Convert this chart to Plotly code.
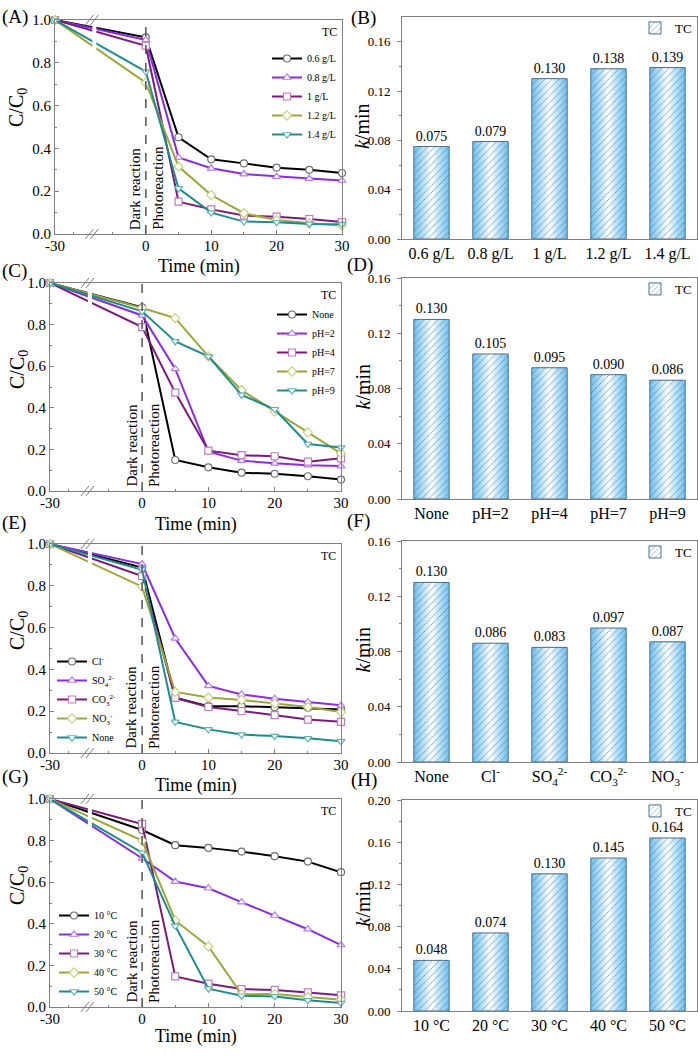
import plotly.graph_objects as go

# ---------------- data ----------------
times = [-30, 0, 5, 10, 15, 20, 25, 30]

# (A) catalyst dosage
dose_names = ["0.6 g/L", "0.8 g/L", "1 g/L", "1.2 g/L", "1.4 g/L"]
dose_vals = [
    [1.0, 0.919, 0.452, 0.349, 0.330, 0.310, 0.300, 0.285],
    [1.0, 0.907, 0.358, 0.307, 0.280, 0.268, 0.259, 0.250],
    [1.0, 0.880, 0.151, 0.115, 0.086, 0.081, 0.070, 0.056],
    [1.0, 0.707, 0.315, 0.182, 0.097, 0.065, 0.050, 0.040],
    [1.0, 0.759, 0.213, 0.100, 0.058, 0.055, 0.047, 0.045],
]
# (C) pH
ph_names = ["None", "pH=2", "pH=4", "pH=7", "pH=9"]
ph_vals = [
    [1.0, 0.883, 0.149, 0.114, 0.088, 0.083, 0.071, 0.055],
    [1.0, 0.844, 0.587, 0.189, 0.146, 0.133, 0.124, 0.120],
    [1.0, 0.788, 0.473, 0.194, 0.172, 0.167, 0.141, 0.157],
    [1.0, 0.880, 0.831, 0.647, 0.485, 0.382, 0.282, 0.181],
    [1.0, 0.864, 0.719, 0.647, 0.462, 0.393, 0.226, 0.209],
]
# (E) anions
ion_names = ["Cl<sup>-</sup>", "SO<sub>4</sub><sup>2-</sup>", "CO<sub>3</sub><sup>2-</sup>",
             "NO<sub>3</sub><sup>-</sup>", "None"]
ion_vals = [
    [1.0, 0.887, 0.264, 0.224, 0.224, 0.219, 0.216, 0.208],
    [1.0, 0.904, 0.548, 0.321, 0.280, 0.260, 0.244, 0.228],
    [1.0, 0.847, 0.264, 0.220, 0.201, 0.181, 0.160, 0.149],
    [1.0, 0.796, 0.292, 0.265, 0.254, 0.236, 0.220, 0.196],
    [1.0, 0.877, 0.149, 0.113, 0.088, 0.081, 0.070, 0.056],
]
# (G) temperature
temp_names = ["10 °C", "20 °C", "30 °C", "40 °C", "50 °C"]
temp_vals = [
    [1.0, 0.851, 0.778, 0.765, 0.747, 0.725, 0.699, 0.648],
    [1.0, 0.715, 0.603, 0.571, 0.504, 0.440, 0.374, 0.298],
    [1.0, 0.880, 0.147, 0.112, 0.086, 0.082, 0.070, 0.056],
    [1.0, 0.800, 0.416, 0.291, 0.061, 0.062, 0.048, 0.035],
    [1.0, 0.742, 0.390, 0.088, 0.054, 0.051, 0.032, 0.019],
]

# bar charts: rate constants k (min^-1)
k_dose_cats = ["0.6 g/L", "0.8 g/L", "1 g/L", "1.2 g/L", "1.4 g/L"]
k_dose = [0.075, 0.079, 0.130, 0.138, 0.139]
k_ph_cats = ["None", "pH=2", "pH=4", "pH=7", "pH=9"]
k_ph = [0.130, 0.105, 0.095, 0.090, 0.086]
k_ion_cats = ["None", "Cl<sup>-</sup>", "SO<sub>4</sub><sup>2-</sup>",
              "CO<sub>3</sub><sup>2-</sup>", "NO<sub>3</sub><sup>-</sup>"]
k_ion = [0.130, 0.086, 0.083, 0.097, 0.087]
k_temp_cats = ["10 °C", "20 °C", "30 °C", "40 °C", "50 °C"]
k_temp = [0.048, 0.074, 0.130, 0.145, 0.164]

x_ticks = [-30, 0, 10, 20, 30]
x_minor = [-24, -11, 5, 15, 25]
BREAK_T = -17

# ---------------- style ----------------
W, H = 698, 1057
FONT = "Liberation Serif"
AX = "#808080"
colors = ["#000000", "#8B2BE2", "#7a1a7a", "#9DA63A", "#1f8c8c"]
mk_line = ["#6e6e6e", "#b27cf0", "#c07cc0", "#c9d17f", "#63b3b3"]
symbols = ["circle", "triangle-up", "square", "diamond", "triangle-down"]
NEG_SCALE = 0.463  # compressed scale of the broken (negative-time) segment


def tmap(t):
    return t * NEG_SCALE if t < 0 else t


def px_x(p):
    return p / W


def px_y(p):
    return 1 - p / H


fig = go.Figure()

# (names, vals, axis idx, frame px (x0,x1,y0,y1), legend, legend pos, ytitle center y, xtitle center y)
line_panels = [
    (dose_names, dose_vals, 1, (55, 342, 20, 234), "legend",
     dict(x=px_x(341), y=px_y(44), xanchor="right", yanchor="top"), 108, 267),
    (ph_names, ph_vals, 3, (50, 341, 283, 491), "legend3",
     dict(x=px_x(340), y=px_y(300), xanchor="right", yanchor="top"), 370, 524),
    (ion_names, ion_vals, 5, (50, 341, 544, 753), "legend5",
     dict(x=px_x(52), y=px_y(752), xanchor="left", yanchor="bottom"), 631, 785),
    (temp_names, temp_vals, 7, (50, 341, 799, 1007), "legend7",
     dict(x=px_x(54), y=px_y(1006), xanchor="left", yanchor="bottom"), 886, 1036),
]

bar_panels = [
    (k_dose_cats, k_dose, 2, (402, 697, 17, 239), [0, 0.18], "legend2"),
    (k_ph_cats, k_ph, 4, (402, 697, 278, 499), [0, 0.16], "legend4"),
    (k_ion_cats, k_ion, 6, (402, 697, 541, 762), [0, 0.16], "legend6"),
    (k_temp_cats, k_temp, 8, (402, 697, 800, 1011), [0, 0.20], "legend8"),
]

layout = dict(
    width=W, height=H,
    margin=dict(l=0, r=0, t=0, b=0, autoexpand=False),
    paper_bgcolor="white", plot_bgcolor="white",
    font=dict(family=FONT, color="black", size=14),
    barmode="overlay",
    showlegend=True,
)
shapes = []
annotations = []


def ax_name(i, kind):
    return kind + ("" if i == 1 else str(i))


def ref_name(i, kind):
    return kind + ("" if i == 1 else str(i))


base_axis = dict(showline=True, linecolor=AX, linewidth=1, mirror=True,
                 ticks="outside", tickcolor=AX, ticklen=4, tickwidth=1,
                 showgrid=False, zeroline=False, automargin=False)

# ---------- line panels ----------
for names, vals, i, (x0, x1, y0, y1), leg, legpos, yt_y, xt_y in line_panels:
    xr, yr = ref_name(i, "x"), ref_name(i, "y")
    xm = [tmap(t) for t in times]
    for j, (nm, v) in enumerate(zip(names, vals)):
        fig.add_trace(go.Scatter(
            x=xm, y=v, name=nm, mode="lines+markers",
            line=dict(color=colors[j], width=2),
            marker=dict(symbol=symbols[j], size=7, color="white",
                        line=dict(color=mk_line[j], width=1.2)),
            xaxis=xr, yaxis=yr, legend=leg, cliponaxis=False,
        ))
    layout[ax_name(i, "xaxis")] = dict(
        base_axis, domain=[px_x(x0), px_x(x1)], anchor=yr, ticks="inside",
        range=[tmap(-30), 30],
        tickmode="array", tickvals=[tmap(t) for t in x_ticks], ticktext=[str(t) for t in x_ticks],
        minor=dict(tickmode="array", tickvals=[tmap(t) for t in x_minor], ticks="inside", ticklen=2, tickcolor=AX),
        tickfont=dict(size=15), ticklabelstandoff=-2,
    )
    layout[ax_name(i, "yaxis")] = dict(
        base_axis, domain=[px_y(y1), px_y(y0)], anchor=xr, ticks="inside",
        range=[0, 1.0], tickmode="array", tickvals=[0, 0.2, 0.4, 0.6, 0.8, 1.0],
        ticktext=["0.0", "0.2", "0.4", "0.6", "0.8", "1.0"],
        minor=dict(tickmode="array", tickvals=[0.1, 0.3, 0.5, 0.7, 0.9], ticks="inside", ticklen=2, tickcolor=AX),
        tickfont=dict(size=15),
    )
    annotations.append(dict(text="C/C<sub>0</sub>", xref="paper", yref="paper", x=px_x(18), y=px_y(yt_y),
                            textangle=-90, xanchor="center", yanchor="middle", showarrow=False,
                            font=dict(size=20)))
    annotations.append(dict(text="Time (min)", xref="paper", yref="paper", x=px_x((x0 + x1) / 2),
                            y=px_y(xt_y), xanchor="center", yanchor="middle", showarrow=False,
                            font=dict(size=18)))
    layout[leg] = dict(legpos, bgcolor="rgba(0,0,0,0)", borderwidth=0, font=dict(size=10),
                       itemwidth=30, tracegroupgap=0)
    shapes.append(dict(type="line", xref=xr, yref=f"{yr} domain", x0=0, x1=0, y0=0, y1=1,
                       line=dict(color="#555555", width=1.5, dash="dash")))
    shapes.append(dict(type="rect", xref=xr, yref=f"{yr} domain", xsizemode="pixel",
                       xanchor=tmap(BREAK_T), x0=-2, x1=2, y0=0.004, y1=0.996,
                       fillcolor="white", line=dict(width=0), layer="above"))
    for ya in (0, 1):
        for dx in (-5, 0):
            shapes.append(dict(type="line", xref=xr, yref=f"{yr} domain",
                               xsizemode="pixel", xanchor=tmap(BREAK_T), x0=dx - 4, x1=dx + 4,
                               ysizemode="pixel", yanchor=ya, y0=-5, y1=5,
                               line=dict(color=AX, width=1), layer="above"))
    annotations.append(dict(text="Dark reaction", xref=xr, yref=f"{yr} domain", x=0, y=0,
                            textangle=-90, xanchor="right", yanchor="bottom", xshift=-1, yshift=2,
                            showarrow=False, font=dict(size=15)))
    annotations.append(dict(text="Photoreaction", xref=xr, yref=f"{yr} domain", x=0, y=0,
                            textangle=-90, xanchor="left", yanchor="bottom", xshift=2, yshift=2,
                            showarrow=False, font=dict(size=15)))
    annotations.append(dict(text="TC", xref=f"{xr} domain", yref=f"{yr} domain", x=0.99, y=0.985,
                            xanchor="right", yanchor="top", showarrow=False, font=dict(size=12)))

# ---------- bar panels ----------
EDGE = (121, 197, 240)
N_STEPS = 8
BAR_W = 0.6
HATCH = dict(shape="/", fgcolor="#3d6e96", fgopacity=0.75, size=5, solidity=0.14)
for cats, vals, i, (x0, x1, y0, y1), yrange, leg in bar_panels:
    xr, yr = ref_name(i, "x"), ref_name(i, "y")
    for s in range(N_STEPS):
        f = s / (N_STEPS - 1)
        wfrac = 1 - 0.88 * f
        mix = 0.97 * f ** 1.1
        c = "rgb(%d,%d,%d)" % tuple(int(EDGE[k] + (255 - EDGE[k]) * mix) for k in range(3))
        fig.add_trace(go.Bar(x=cats, y=vals, width=BAR_W * wfrac, xaxis=xr, yaxis=yr,
                             hoverinfo="skip", showlegend=False,
                             marker=dict(color=c, line=dict(width=0))))
    fig.add_trace(go.Bar(
        x=cats, y=vals, width=BAR_W, xaxis=xr, yaxis=yr, name="TC",
        showlegend=True, legend=leg,
        marker=dict(color="rgba(121,197,240,0.0)",
                    pattern=dict(HATCH, fillmode="replace", bgcolor="rgba(255,255,255,0)"),
                    line=dict(color="#4d6f8a", width=1)),
        text=vals, texttemplate="%{y:.3f}", textposition="outside",
        textfont=dict(size=14, color="black"), cliponaxis=False,
    ))
    layout[ax_name(i, "xaxis")] = dict(
        base_axis, domain=[px_x(x0), px_x(x1)], anchor=yr, ticks="",
        tickfont=dict(size=16), type="category",
    )
    dt = 0.04
    nt = int(round(yrange[1] / dt))
    layout[ax_name(i, "yaxis")] = dict(
        base_axis, domain=[px_y(y1), px_y(y0)], anchor=xr, range=yrange,
        tickmode="array", tickvals=[k * dt for k in range(nt + 1)],
        ticktext=[f"{k * dt:.2f}" for k in range(nt + 1)],
        minor=dict(tickmode="array", tickvals=[k * dt + dt / 2 for k in range(nt)],
                   ticks="outside", ticklen=2, tickcolor=AX),
        tickfont=dict(size=13), ticklabelstandoff=4,
    )
    annotations.append(dict(text="<i>k</i>/min", xref="paper", yref="paper", x=px_x(362),
                            y=px_y((y0 + y1) / 2 - 2), textangle=-90, xanchor="center",
                            yanchor="middle", showarrow=False, font=dict(size=20)))
    layout[leg] = dict(x=px_x(697), y=px_y(y0 - 4), xanchor="right", yanchor="top",
                       bgcolor="rgba(0,0,0,0)", borderwidth=0, font=dict(size=13), itemwidth=30)

# panel letters
for lab, xp, yp in [("(A)", 0, 17), ("(B)", 349, 18), ("(C)", 0, 271), ("(D)", 345, 265),
                    ("(E)", 0, 523), ("(F)", 345, 521), ("(G)", 0, 777), ("(H)", 349, 780)]:
    annotations.append(dict(text=lab, xref="paper", yref="paper", x=px_x(xp), y=px_y(yp),
                            xanchor="left", yanchor="middle", showarrow=False, font=dict(size=19)))

layout["shapes"] = shapes
layout["annotations"] = annotations
fig.update_layout(**layout)
fig.write_html("out.html", config={"displayModeBar": False},
               post_script="document.body.style.margin='0';document.body.style.overflow='hidden';")
